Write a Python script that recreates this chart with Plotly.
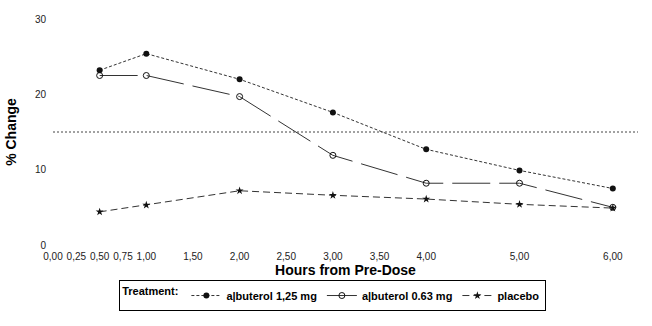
import plotly.graph_objects as go

hours = [0.5, 1.0, 2.0, 3.0, 4.0, 5.0, 6.0]
alb_125 = [23.2, 25.4, 22.0, 17.6, 12.7, 9.9, 7.5]
alb_063 = [22.5, 22.5, 19.7, 11.9, 8.2, 8.2, 5.0]
placebo = [4.4, 5.3, 7.2, 6.6, 6.1, 5.4, 4.9]
threshold = 15

x_tickvals = [0, 0.25, 0.5, 0.75, 1, 1.5, 2, 2.5, 3, 3.5, 4, 5, 6]
x_ticktext = ["0,00", "0,25", "0,50", "0,75", "1,00", "1,50", "2,00", "2,50",
              "3,00", "3,50", "4,00", "5,00", "6,00"]
y_tickvals = [0, 10, 20, 30]

FONT = "Liberation Sans, Arial, sans-serif"
LINE = "#333333"

fig = go.Figure()
fig.add_trace(go.Scatter(
    x=hours, y=alb_125, name="a|buterol 1,25 mg", mode="lines+markers",
    line=dict(color=LINE, width=1, dash="3px,2px"),
    marker=dict(symbol="circle", size=6, color="#111111"),
))
fig.add_trace(go.Scatter(
    x=hours, y=alb_063, name="a|buterol 0.63 mg", mode="lines+markers",
    line=dict(color=LINE, width=1, dash="38px,9px"),
    marker=dict(symbol="circle-open", size=6, color="#111111", line=dict(width=1)),
))
fig.add_trace(go.Scatter(
    x=hours, y=placebo, name="placebo", mode="lines+markers",
    line=dict(color=LINE, width=1, dash="7px,4px"),
    marker=dict(symbol="star", size=6, color="#111111"),
))

fig.add_hline(y=threshold, line=dict(color="#444444", width=1, dash="2px,2px"))

fig.update_layout(
    width=652, height=326,
    margin=dict(l=53, r=14, t=19, b=81, autoexpand=False),
    paper_bgcolor="white", plot_bgcolor="white",
    font=dict(family=FONT, color="#222222", size=10),
    showlegend=True,
    legend=dict(
        orientation="h",
        x=0.478, y=-0.155, xanchor="center", yanchor="top",
        bordercolor="black", borderwidth=1,
        font=dict(size=11, family="Liberation Sans, Arial", color="black", weight="bold"),
        title=dict(text="Treatment:", side="left",
                   font=dict(size=11, color="black", weight="bold")),
        itemwidth=30,
    ),
    xaxis=dict(
        range=[0, 6.27], tickvals=x_tickvals, ticktext=x_ticktext,
        showgrid=False, zeroline=False, showline=False, ticks="",
        ticklabelstandoff=4, automargin=False,
        title=dict(text="<b>Hours from Pre-Dose</b>", font=dict(size=14, color="black"), standoff=4),
    ),
    yaxis=dict(
        range=[0, 30], tickvals=y_tickvals,
        showgrid=False, zeroline=False, showline=False, ticks="",
        ticklabelstandoff=6, automargin=False,
        title=dict(text="<b>% Change</b>", font=dict(size=14, color="black"), standoff=14),
    ),
)

fig.write_html("out.html")
